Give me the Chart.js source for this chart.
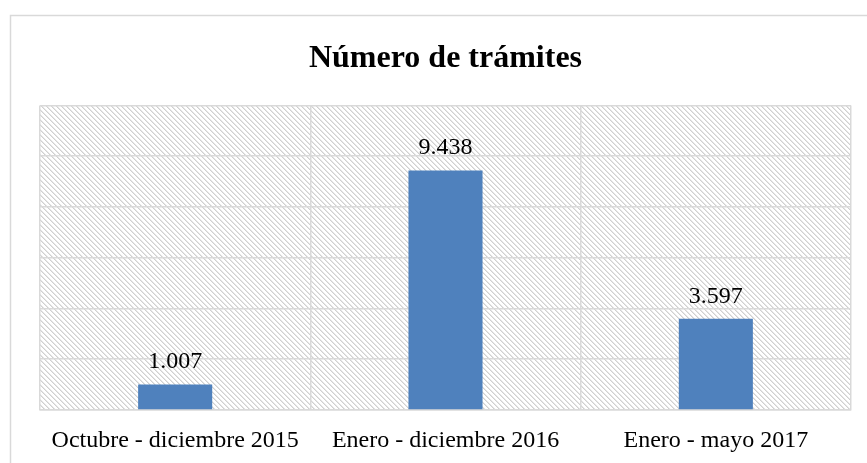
<!DOCTYPE html>
<html>
<head>
<meta charset="utf-8">
<script src="https://cdn.jsdelivr.net/npm/chart.js@4/dist/chart.umd.min.js"></script>
<style>
  html, body { margin: 0; padding: 0; background: #fff; }
  #wrap { width: 867px; height: 463px; position: relative; }
</style>
</head>
<body>
<div id="wrap"><canvas id="chart"></canvas></div>
<script>
const categories = ["Octubre - diciembre 2015", "Enero - diciembre 2016", "Enero - mayo 2017"];
const tramites = [1007, 9438, 3597];
const yTicks = [0, 2000, 4000, 6000, 8000, 10000, 12000];

const SERIF = '"Times New Roman", "Liberation Serif", serif';
const GRID = "#d9d9d9";

// hatch tile for the plot area
function hatchPattern(ctx) {
  const n = 5;
  const tile = document.createElement("canvas");
  tile.width = n;
  tile.height = n;
  const t = tile.getContext("2d");
  t.fillStyle = "#fff";
  t.fillRect(0, 0, n, n);
  for (let i = 0; i < n; i++) {
    t.fillStyle = "#d0d0d0";
    t.fillRect(i, i, 1, 1);
    t.fillStyle = "#e6e6e6";
    t.fillRect((i + 1) % n, i, 1, 1);
  }
  return ctx.createPattern(tile, "repeat");
}

function fmt(v) {
  return String(v).replace(/\B(?=(\d{3})+(?!\d))/g, ".");
}

const background = {
  id: "background",
  beforeDraw(chart) {
    const { ctx, chartArea: a } = chart;
    ctx.save();
    ctx.strokeStyle = GRID;
    ctx.lineWidth = 1.5;
    ctx.strokeRect(10.5, 15.5, 1000, 1000);
    ctx.fillStyle = hatchPattern(ctx);
    ctx.fillRect(a.left, a.top, a.right - a.left, a.bottom - a.top);
    ctx.restore();
  }
};

const valueLabels = {
  id: "valueLabels",
  afterDatasetsDraw(chart) {
    const { ctx } = chart;
    const meta = chart.getDatasetMeta(0);
    ctx.save();
    ctx.font = "24px " + SERIF;
    ctx.fillStyle = "#000";
    ctx.textAlign = "center";
    ctx.textBaseline = "alphabetic";
    meta.data.forEach((bar, i) => {
      ctx.fillText(fmt(tramites[i]), bar.x, bar.y - 16);
    });
    ctx.restore();
  }
};

new Chart(document.getElementById("chart"), {
  type: "bar",
  data: {
    labels: categories,
    datasets: [{
      data: tramites,
      backgroundColor: "#4f81bd",
      borderWidth: 0,
      categoryPercentage: 1,
      barPercentage: 0.274
    }]
  },
  options: {
    responsive: true,
    maintainAspectRatio: false,
    animation: false,
    layout: { padding: { left: 40, right: 16, top: 0, bottom: 0 } },
    plugins: {
      legend: { display: false },
      tooltip: { enabled: false },
      title: {
        display: true,
        text: "Número de trámites",
        color: "#000",
        font: { family: SERIF, size: 32, weight: "bold" },
        padding: { top: 40, bottom: 27 }
      }
    },
    scales: {
      x: {
        grid: { color: GRID, lineWidth: 1.5, offset: true, drawTicks: false },
        border: { color: GRID, width: 1.5 },
        ticks: {
          color: "#000",
          font: { family: SERIF, size: 24 },
          padding: 16,
          maxRotation: 0
        },
        afterFit(scale) {
          scale.height = 53;
        }
      },
      y: {
        min: yTicks[0],
        max: yTicks[yTicks.length - 1],
        afterBuildTicks(axis) {
          axis.ticks = yTicks.map(v => ({ value: v }));
        },
        grid: { color: GRID, lineWidth: 1.5, drawTicks: false },
        border: { display: false },
        ticks: { display: false }
      }
    }
  },
  plugins: [background, valueLabels]
});
</script>
</body>
</html>
